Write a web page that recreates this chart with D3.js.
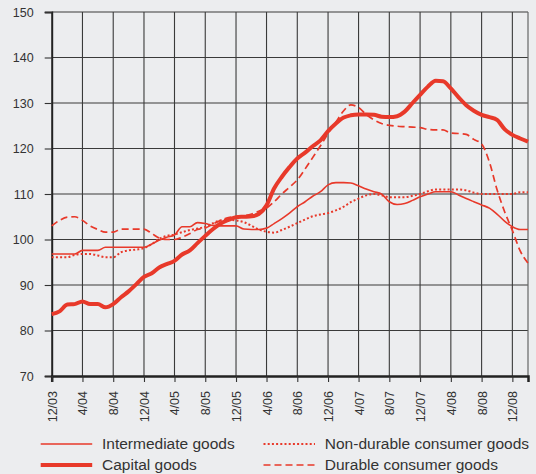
<!DOCTYPE html>
<html><head><meta charset="utf-8">
<script src="https://cdn.jsdelivr.net/npm/d3@7"></script>
<style>
html,body{margin:0;padding:0;background:#ecedef;}
svg{display:block;font-family:"Liberation Sans",Arial,Helvetica,sans-serif;}
</style></head>
<body>
<svg id="c" width="536" height="474"></svg>
<script>
// Monthly data, Dec 2003 .. Feb 2009
const startMonth = [2003, 11]; // Dec 2003 (JS month index)
const intermediate = [96.8,96.8,96.8,96.8,97.6,97.6,97.6,98.3,98.3,98.3,98.3,98.3,98.3,99,99.9,100.5,101,102.8,102.8,103.7,103.5,103.1,103,103,103,102.3,102.2,102.2,102.5,103.5,104.6,105.8,107.2,108.3,109.5,110.5,112,112.5,112.5,112.4,111.8,111.1,110.5,110,108.3,107.7,107.9,108.6,109.4,110,110.5,110.5,110.5,109.8,109,108.3,107.6,106.9,105.6,104,102.8,102.2,102.2];
const capital = [83.6,84.2,85.7,85.8,86.4,85.8,85.8,85.1,85.8,87.3,88.6,90.2,91.8,92.6,93.9,94.6,95.3,96.7,97.6,99.2,100.8,102.3,103.5,104.3,104.9,105,105.1,105.6,107.5,111.2,113.8,115.9,117.8,119.1,120.5,121.8,123.8,125.5,126.8,127.3,127.5,127.5,127.4,127,126.9,127.1,128.1,130,131.8,133.6,134.9,134.8,133.2,131.3,129.5,128.3,127.4,126.9,126.3,124.2,123,122.2,121.5];
const nonDurable = [96.1,96.1,96.1,96.6,96.8,96.8,96.5,96.1,96.1,97.2,97.6,97.8,98.1,99,100.2,100.8,101.1,101.6,102.1,102.4,102.8,103.6,104.2,104.3,104.2,103.8,103,102.2,101.7,101.5,102.1,102.8,103.6,104.4,105.1,105.5,105.8,106.4,107.2,108.2,109,109.7,110,109.7,109.3,109.3,109.3,109.6,110,110.6,111,111,111,111,110.8,110.3,110,110,110,110,110,110.4,110.4];
const durable = [103,104.2,104.9,105,104.2,103,102.2,101.6,101.6,102.3,102.3,102.3,102.3,101.3,100.3,100,100,100.5,101.3,102.2,102.5,103.4,104.2,104.8,105,105.2,105.6,106.2,106.9,108.3,110,111.5,113.1,115.5,118,120.6,123.3,125.8,128.3,129.6,129,127.5,126.3,125.5,125.1,124.9,124.8,124.7,124.6,124.2,124.1,124.1,123.4,123.3,123.1,122,121,117,111,106,102,97.5,94.8];
const yTicks = [70,80,90,100,110,120,130,140,150];
const xTickLabels = ["12/03","4/04","8/04","12/04","4/05","8/05","12/05","4/06","8/06","12/06","4/07","8/07","12/07","4/08","8/08","12/08"];
const seriesNames = ["Intermediate goods","Capital goods","Non-durable consumer goods","Durable consumer goods"];

const RED = "#e8392a";
const svg = d3.select("#c");
const L = 51.7, R = 528, T = 12, B = 376;

const dates = capital.map((_, i) => new Date(startMonth[0], startMonth[1] + i, 1));
const x = d3.scaleTime().domain([new Date(2003,11,1), new Date(2009,1,1)]).range([L, R]);
const y = d3.scaleLinear().domain([70,150]).range([B, T]);

const tickDates = xTickLabels.map(s => { const [m, yy] = s.split("/").map(Number); return new Date(2000+yy, m-1, 1); });

// grid
const g = svg.append("g");
g.selectAll("line.h").data(yTicks.filter(v => v > 70)).join("line")
  .attr("x1", L).attr("x2", R).attr("y1", d => y(d)).attr("y2", d => y(d))
  .attr("stroke", "#3a3a3a").attr("stroke-width", 1.1);
g.selectAll("line.v").data(tickDates.slice(1)).join("line")
  .attr("x1", d => x(d)).attr("x2", d => x(d)).attr("y1", T).attr("y2", B)
  .attr("stroke", "#3a3a3a").attr("stroke-width", 1.1);
g.append("line").attr("x1", R).attr("x2", R).attr("y1", T).attr("y2", B).attr("stroke", "#666").attr("stroke-width", 1.2);

// axes
const yAxis = d3.axisLeft(y).tickValues(yTicks).tickSize(7).tickPadding(11);
const ya = svg.append("g").attr("transform", `translate(${L},0)`).call(yAxis);
ya.select(".domain").attr("stroke", "#222").attr("stroke-width", 2);
ya.selectAll(".tick line").attr("stroke", "#333").attr("stroke-width", 1.1);
ya.selectAll("text").attr("fill", "#333").style("font-size", "12.5px").style("font-family", '"Liberation Sans",Arial,sans-serif');

const xAxis = d3.axisBottom(x).tickValues(tickDates).tickSize(6).tickFormat((d, i) => xTickLabels[i]);
const xa = svg.append("g").attr("transform", `translate(0,${B})`).call(xAxis);
xa.select(".domain").attr("stroke", "#222").attr("stroke-width", 2.5);
xa.selectAll(".tick line").attr("stroke", "#333").attr("stroke-width", 1.1);
xa.selectAll("text").attr("fill", "#333").style("font-size", "12.5px").style("font-family", '"Liberation Sans",Arial,sans-serif')
  .attr("text-anchor", "end").attr("transform", "rotate(-90)").attr("x", -15).attr("y", 0).attr("dy", "0.36em");

// lines
const line = d3.line().x((d, i) => x(dates[i])).y(d => y(d)).curve(d3.curveMonotoneX);
const styles = [
  {data: intermediate, w: 1.6, dash: null},
  {data: capital, w: 4, dash: null},
  {data: nonDurable, w: 2, dash: "2,2.2"},
  {data: durable, w: 1.7, dash: "7,4"}
];
const order = [2, 3, 0, 1];
order.forEach(k => {
  const s = styles[k];
  svg.append("path").datum(s.data).attr("d", line)
    .attr("fill", "none").attr("stroke", RED).attr("stroke-width", s.w)
    .attr("stroke-linejoin", "round")
    .attr("stroke-dasharray", s.dash);
});

// legend
const legPos = [[40.7, 444], [40.7, 465], [263.5, 444], [263.5, 465]];
seriesNames.forEach((name, k) => {
  const [lx, ly] = legPos[k];
  const s = styles[k];
  svg.append("line").attr("x1", lx).attr("x2", lx + 51.5).attr("y1", ly).attr("y2", ly)
    .attr("stroke", RED).attr("stroke-width", s.w).attr("stroke-dasharray", s.dash);
  svg.append("text").attr("x", lx + 61.3).attr("y", ly).attr("dy", "0.34em")
    .attr("fill", "#333").style("font-size", "15.5px").text(name);
});
</script>
</body></html>
